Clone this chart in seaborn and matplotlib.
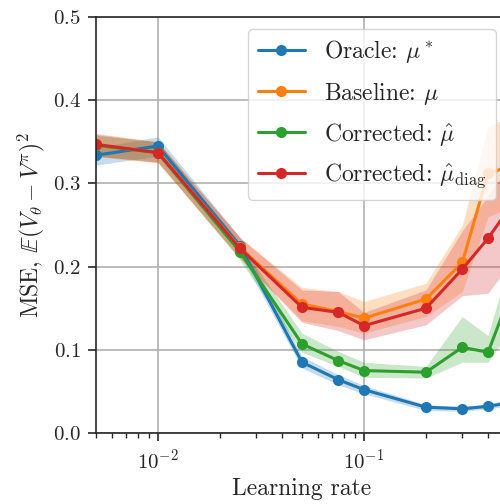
import pandas as pd
import matplotlib
matplotlib.use("Agg")
import matplotlib.pyplot as plt
import seaborn as sns

# Learning rates (x axis)
lr = [0.005, 0.01, 0.025, 0.05, 0.075, 0.1, 0.2, 0.3, 0.4, 0.5]

# Mean MSE per method, with lower / upper band
oracle = [0.334, 0.345, 0.225, 0.085, 0.064, 0.052, 0.031, 0.029, 0.032, 0.036]
oracle_lo = [0.322, 0.333, 0.215, 0.078, 0.058, 0.047, 0.027, 0.026, 0.029, 0.032]
oracle_hi = [0.343, 0.356, 0.235, 0.092, 0.070, 0.057, 0.034, 0.032, 0.035, 0.040]

baseline = [0.346, 0.337, 0.223, 0.155, 0.146, 0.138, 0.161, 0.205, 0.312, 0.320]
baseline_lo = [0.332, 0.325, 0.210, 0.135, 0.128, 0.120, 0.140, 0.170, 0.260, 0.270]
baseline_hi = [0.359, 0.350, 0.235, 0.175, 0.170, 0.158, 0.180, 0.250, 0.368, 0.380]

corrected = [0.346, 0.337, 0.218, 0.107, 0.087, 0.075, 0.073, 0.103, 0.097, 0.160]
corrected_lo = [0.333, 0.326, 0.208, 0.097, 0.080, 0.067, 0.066, 0.085, 0.085, 0.120]
corrected_hi = [0.358, 0.350, 0.228, 0.120, 0.098, 0.085, 0.080, 0.140, 0.117, 0.200]

diag = [0.347, 0.337, 0.222, 0.151, 0.145, 0.129, 0.150, 0.197, 0.234, 0.268]
diag_lo = [0.333, 0.325, 0.210, 0.133, 0.123, 0.112, 0.130, 0.165, 0.168, 0.200]
diag_hi = [0.360, 0.350, 0.235, 0.172, 0.170, 0.145, 0.172, 0.243, 0.285, 0.320]

labels = [r"Oracle: $\mu^*$", r"Baseline: $\mu$",
          r"Corrected: $\hat{\mu}$", r"Corrected: $\hat{\mu}_{\mathrm{diag}}$"]
means = [oracle, baseline, corrected, diag]
lows = [oracle_lo, baseline_lo, corrected_lo, diag_lo]
highs = [oracle_hi, baseline_hi, corrected_hi, diag_hi]

sns.set_style("ticks")
plt.rcParams["font.family"] = "serif"
plt.rcParams["font.serif"] = ["cmr10"]
plt.rcParams["mathtext.fontset"] = "cm"
plt.rcParams["axes.formatter.use_mathtext"] = True

colors = sns.color_palette("tab10", 4)

fig = plt.figure(figsize=(5, 5.04), dpi=100)
ax = fig.add_axes([0.192, 0.141, 0.824, 0.825])

for lab, m, lo, hi, c in zip(labels, means, lows, highs, colors):
    df = pd.DataFrame({"lr": lr, "mse": m})
    sns.lineplot(data=df, x="lr", y="mse", ax=ax, color=c, marker="o",
                 markersize=8, markeredgewidth=0, linewidth=2.2, label=lab)
    ax.fill_between(lr, lo, hi, color=c, alpha=0.25, linewidth=0)

ax.set_xscale("log")
ax.set_xlim(0.005, 0.5)
ax.set_ylim(0.0, 0.5)
ax.set_yticks([0.0, 0.1, 0.2, 0.3, 0.4, 0.5])
ax.grid(True, which="major", color="#b0b0b0", linewidth=1.2)
ax.tick_params(which="major", labelsize=15, length=6, width=1.2, pad=5)
ax.tick_params(which="minor", length=3.5, width=1.0)
for s in ax.spines.values():
    s.set_linewidth(1.2)

ax.set_xlabel("Learning rate", fontsize=17)
ax.set_ylabel(r"MSE, $\mathbb{E}(V_\theta - V^\pi)^2$", fontsize=17)

ax.legend(loc="upper right", fontsize=17, framealpha=0.8, labelspacing=0.6)

fig.savefig("out.png", dpi=100)
